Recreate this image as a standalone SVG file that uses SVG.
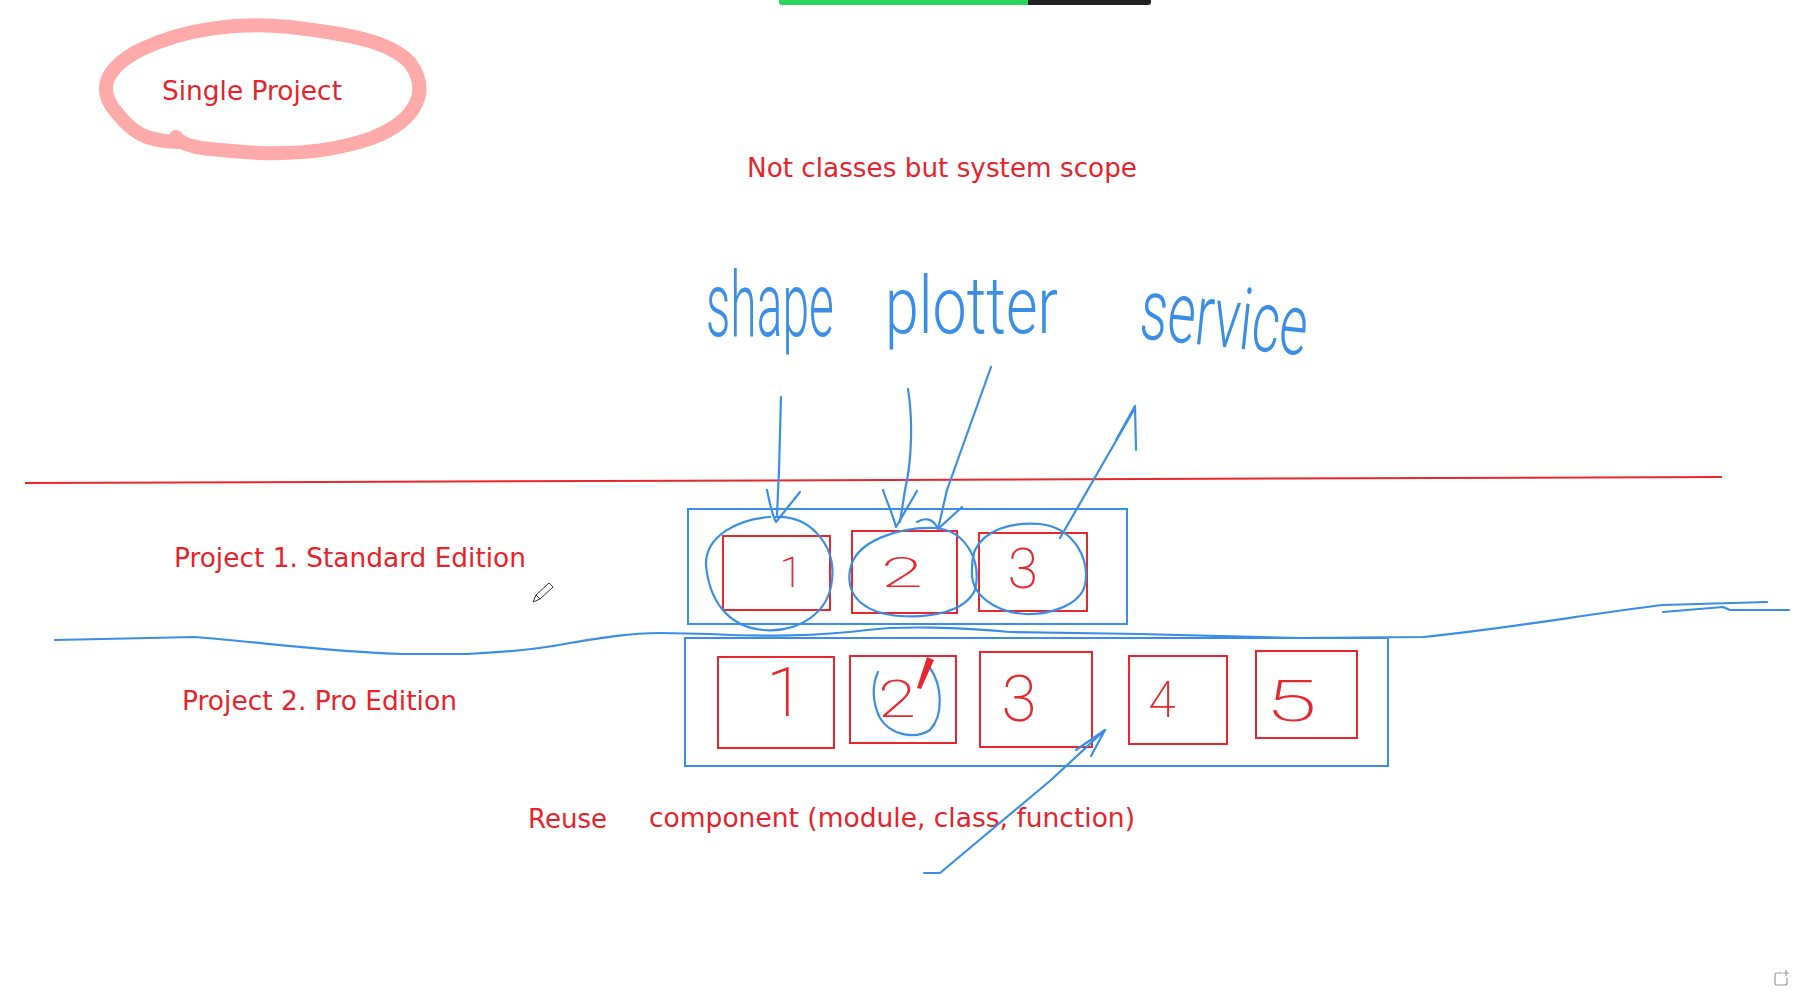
<svg xmlns="http://www.w3.org/2000/svg" width="1803" height="1007" viewBox="0 0 1803 1007">
<style>
.lbl{font-family:"DejaVu Sans","Liberation Sans",sans-serif;font-size:26px;fill:#e8222a}
.hand{font-family:Roboto,"Liberation Sans",sans-serif;font-weight:300;fill:#3a8ee6}
.dig{font-family:Roboto,"Liberation Sans",sans-serif;font-weight:200;fill:#e8262c;text-anchor:middle}
.pen{fill:none;stroke:#3a8ee6;stroke-width:2.2;stroke-linecap:round;stroke-linejoin:round}
.box{fill:none;stroke:#3a8ee6;stroke-width:2}
.rbox{fill:none;stroke:#e8262c;stroke-width:2}
</style>
<rect width="1803" height="1007" fill="#ffffff"/>
<g id="topbar">
<path d="M779,0 H1028 V5 H782 Q779,5 779,2 Z" fill="#2ad45a"/>
<path d="M1028,0 H1151 V2 Q1151,5 1148,5 H1028 Z" fill="#222222"/>
</g>
<g id="single-project">
<path d="M178,142 C145,141 132,132 117,113 C98,92 102,70 140,50 C185,28 240,22 290,27 C340,33 390,40 410,63 C430,90 418,120 372,138 C332,152 282,156 232,151 C208,149 184,148 176,137" fill="none" stroke="#ffaaaa" stroke-width="14" stroke-linecap="round" stroke-linejoin="round"/>
<text class="lbl" x="162" y="100" font-size="24" textLength="180" lengthAdjust="spacingAndGlyphs">Single Project</text>
</g>
<g id="scope-label">
<text class="lbl" x="747" y="177" textLength="390" lengthAdjust="spacingAndGlyphs">Not classes but system scope</text>
</g>
<g id="words">
<text class="hand" transform="translate(706,336) scale(1,1.9)" x="0" y="0" font-size="48">shape</text>
<text class="hand" transform="translate(885,333) scale(1,1.3)" x="0" y="0" font-size="61">plotter</text>
<text class="hand" transform="translate(1138,338) rotate(6) scale(1,1.6)" x="0" y="0" font-size="54">service</text>
</g>
<g id="separators">
<path d="M25,483 L1722,477" stroke="#e8262c" stroke-width="2" fill="none"/>
<path class="pen" d="M55,640 L195,637 C260,642 330,652 403,654 L467,654 C510,652 545,648 570,643 C600,638 630,633 660,633 L710,634 C760,637 820,636 867,630 C900,626 960,627 1010,632 L1140,634 L1300,638 L1423,637 C1500,630 1600,612 1663,605 L1767,602" stroke-width="2"/>
<path class="pen" d="M1663,612 L1723,607 L1730,610 L1789,610" stroke-width="2"/>
</g>
<g id="project1-label"><text class="lbl" x="174" y="567" textLength="352" lengthAdjust="spacingAndGlyphs">Project 1. Standard Edition</text></g>
<g id="project2-label"><text class="lbl" x="182" y="710" textLength="275" lengthAdjust="spacingAndGlyphs">Project 2. Pro Edition</text></g>
<g id="cursor">
<path d="M533,602 L536,595 L549,583 L553,587 L540,599 Z M536,595 L540,599" fill="#ffffff" stroke="#333333" stroke-width="1"/>
</g>
<g id="project1">
<rect class="box" x="688" y="509" width="439" height="115"/>
<rect class="rbox" x="723" y="536" width="107" height="74"/>
<rect class="rbox" x="852" y="531" width="105" height="82"/>
<rect class="rbox" x="979" y="533" width="108" height="78"/>
<text class="dig" x="791" y="587" font-size="42">1</text>
<text class="dig" x="902" y="587" font-size="42" textLength="42" lengthAdjust="spacingAndGlyphs">2</text>
<text class="dig" x="1023" y="588" font-size="55">3</text>
<path class="pen" d="M775,517 C810,515 836,545 832,580 C829,612 800,633 763,630 C728,627 709,600 706,565 C705,536 738,519 770,517"/>
<path class="pen" d="M850,570 C855,540 900,527 935,528 C965,530 982,560 975,590 C965,612 930,618 900,616 C870,614 845,600 850,570 Z"/>
<path class="pen" d="M975,550 C985,530 1010,522 1040,524 C1075,528 1090,560 1085,585 C1080,605 1050,615 1025,614 C995,612 970,595 972,570 C972,560 973,555 975,550"/>
</g>
<g id="project2">
<rect class="box" x="685" y="638" width="703" height="128"/>
<rect class="rbox" x="718" y="657" width="116" height="91"/>
<rect class="rbox" x="850" y="656" width="106" height="87"/>
<rect class="rbox" x="980" y="652" width="112" height="95"/>
<rect class="rbox" x="1129" y="656" width="98" height="88"/>
<rect class="rbox" x="1256" y="651" width="101" height="87"/>
<text class="dig" x="785" y="716" font-size="68">1</text>
<text class="dig" x="897" y="717" font-size="52" textLength="38" lengthAdjust="spacingAndGlyphs">2</text>
<text class="dig" x="1019" y="721" font-size="64">3</text>
<text class="dig" x="1162" y="717" font-size="50">4</text>
<text class="dig" x="1291" y="721" font-size="58" textLength="52" lengthAdjust="spacingAndGlyphs">5</text>
<path class="pen" d="M930,668 C942,685 944,715 930,730 C915,740 890,735 880,718 C872,702 872,685 878,672"/>
<path d="M927,657 L934,660 L921,689 L917,688 Z" fill="#e8262c"/>
</g>
<g id="reuse-labels">
<text class="lbl" x="528" y="828" textLength="79" lengthAdjust="spacingAndGlyphs">Reuse</text>
<text class="lbl" x="649" y="827" textLength="486" lengthAdjust="spacingAndGlyphs">component (module, class, function)</text>
</g>
<g id="connectors">
<path class="pen" d="M781,397 L779,470 L777,515"/>
<path class="pen" d="M767,490 C770,505 772,515 776,522 L800,492"/>
<path class="pen" d="M908,389 C913,420 912,460 905,490 L900,522"/>
<path class="pen" d="M883,490 C888,505 893,515 896,527 L917,491"/>
<path class="pen" d="M991,367 L947,490 L938,529"/>
<path class="pen" d="M962,507 L938,529 M917,522 C925,517 933,519 937,527"/>
<path class="pen" d="M1060,538 L1135,408"/>
<path class="pen" d="M1116,440 L1135,406 L1136,450"/>
<path class="pen" d="M924,873 L940,873 L1051,780 L1105,730"/>
<path class="pen" d="M1076,750 L1105,730 L1091,756"/>
</g>
<g id="corner-icon">
<path d="M1782,973 H1777 Q1775,973 1775,975 V983 Q1775,985 1777,985 H1785 Q1787,985 1787,983 V978 M1786,970 V976 M1783,973 H1789" fill="none" stroke="#999999" stroke-width="1.2"/>
</g>
</svg>
